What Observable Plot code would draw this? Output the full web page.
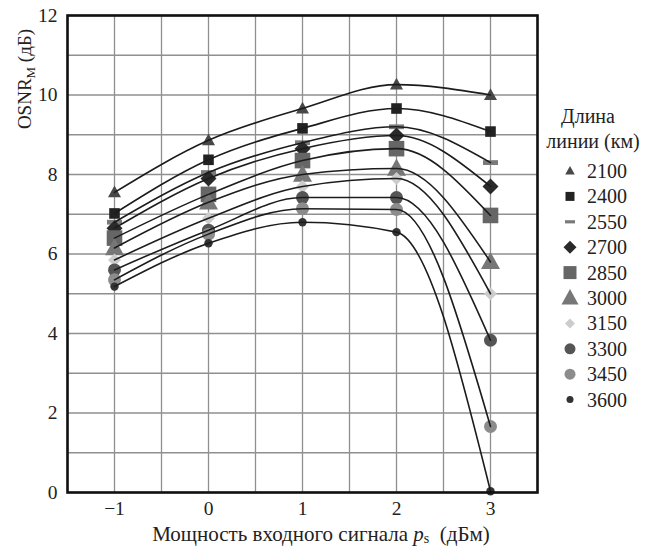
<!DOCTYPE html>
<html><head><meta charset="utf-8">
<script src="https://cdn.jsdelivr.net/npm/d3@7"></script>
<script src="https://cdn.jsdelivr.net/npm/@observablehq/plot@0.6"></script>
<style>
body{margin:0;background:#fff}
#chart{position:relative;width:649px;height:546px}
</style>
</head><body><div id="chart"></div>
<script>
// ---- data ----
const powers = [-1, 0, 1, 2, 3];            // p_s, dBm
const lengths = [2100, 2400, 2550, 2700, 2850, 3000, 3150, 3300, 3450, 3600]; // km
const osnr2100 = [7.55, 8.86, 9.66, 10.26, 10.0];
const osnr2400 = [7.02, 8.37, 9.16, 9.66, 9.08];
const osnr2550 = [6.8, 8.05, 8.8, 9.2, 8.3];
const osnr2700 = [6.65, 7.9, 8.65, 8.98, 7.7];
const osnr2850 = [6.4, 7.5, 8.35, 8.65, 6.97];
const osnr3000 = [6.15, 7.3, 8.0, 8.15, 5.8];
const osnr3150 = [5.85, 6.9, 7.7, 7.9, 5.0];
const osnr3300 = [5.6, 6.6, 7.42, 7.42, 3.83];
const osnr3450 = [5.35, 6.5, 7.14, 7.12, 1.66];
const osnr3600 = [5.18, 6.27, 6.8, 6.55, 0.03];
const seriesValues = [osnr2100, osnr2400, osnr2550, osnr2700, osnr2850, osnr3000, osnr3150, osnr3300, osnr3450, osnr3600];
const xTicks = [-1, 0, 1, 2, 3];
const xGrid = [-1.5, -1, -0.5, 0, 0.5, 1, 1.5, 2, 2.5, 3, 3.5];
const yTicks = [0, 2, 4, 6, 8, 10, 12];
const yGrid = [0, 1, 2, 3, 4, 5, 6, 7, 8, 9, 10, 11, 12];

// ---- custom symbols (r = half-width in px) ----
const R = s => Math.sqrt(s / Math.PI);
const symTri = {draw(c, s){const r=R(s); c.moveTo(0,-r*1.05); c.lineTo(r,r*0.75); c.lineTo(-r,r*0.75); c.closePath();}};
const symSq = {draw(c, s){const r=R(s); c.rect(-r,-r,2*r,2*r);}};
const symDash = {draw(c, s){const r=R(s); c.rect(-r,-r*0.32,2*r,r*0.64);}};
const symDia = {draw(c, s){const r=R(s); c.moveTo(0,-r); c.lineTo(r,0); c.lineTo(0,r); c.lineTo(-r,0); c.closePath();}};
const symCirc = {draw(c, s){const r=R(s); c.moveTo(r,0); c.arc(0,0,r,0,2*Math.PI);}};

const styles = [
  {sym: symTri,  fill: "#484848", r: 6.5, lr: 4.8},
  {sym: symSq,   fill: "#222222", r: 5.3, lr: 4.5},
  {sym: symDash, fill: "#7a7a7a", r: 7.5, lr: 5},
  {sym: symDia,  fill: "#2a2a2a", r: 8,   lr: 6.5},
  {sym: symSq,   fill: "#666666", r: 7.8, lr: 6.5},
  {sym: symTri,  fill: "#777777", r: 9.5, lr: 8.5},
  {sym: symDia,  fill: "#cccccc", r: 6.5, lr: 5},
  {sym: symCirc, fill: "#555555", r: 6.5, lr: 5.5},
  {sym: symCirc, fill: "#8c8c8c", r: 6.5, lr: 5.5},
  {sym: symCirc, fill: "#333333", r: 4.2, lr: 3.5}
];

const rows = seriesValues.map((vals, i) => powers.map((p, j) => ({p, v: vals[j], len: lengths[i]})));

const font = "'Liberation Serif','Times New Roman',serif";
const minus = d => d < 0 ? "\u2212" + Math.abs(d) : String(d);

const chart = Plot.plot({
  width: 649, height: 546,
  marginLeft: 67, marginRight: 112, marginTop: 15, marginBottom: 54,
  style: {fontFamily: font, fontSize: "19.5px", background: "white", color: "#222", overflow: "visible"},
  x: {domain: [-1.5, 3.5]},
  y: {domain: [0, 12]},
  marks: [
    Plot.gridX(xGrid, {stroke: "#8f8f8f", strokeOpacity: 1, strokeWidth: 1.3}),
    Plot.gridY(yGrid, {stroke: "#8f8f8f", strokeOpacity: 1, strokeWidth: 1.3}),
    Plot.axisX(xTicks, {tickSize: 0, tickPadding: 9, tickFormat: minus, label: null, fontSize: 19.5}),
    Plot.axisY(yTicks, {tickSize: 0, tickPadding: 10, label: null, fontSize: 19.5}),
    ...rows.map((d, i) => Plot.dot(d, {x: "p", y: "v", symbol: styles[i].sym, r: styles[i].r, fill: styles[i].fill, stroke: "none"})),
    ...rows.map(d => Plot.line(d, {x: "p", y: "v", curve: "monotone-x", stroke: "#1c1c1c", strokeWidth: 1.6})),
    Plot.frame({stroke: "#111", strokeWidth: 2.6})
  ]
});
document.getElementById("chart").appendChild(chart);

const svg = d3.select(chart);
const txt = sel => sel.style("font-family", font).style("fill", "#222");
// y label
const yl = txt(svg.append("text")).attr("transform", "translate(31,79) rotate(-90)")
  .attr("text-anchor", "middle").style("font-size", "19px");
yl.append("tspan").text("OSNR");
yl.append("tspan").style("font-size", "13px").attr("dy", 4).text("M");
yl.append("tspan").attr("dy", -4).text(" (дБ)");
// x label
const xl = txt(svg.append("text")).attr("x", 321).attr("y", 540.5)
  .attr("text-anchor", "middle").style("font-size", "21px");
xl.append("tspan").text("Мощность входного сигнала ");
xl.append("tspan").style("font-style", "italic").text("p");
xl.append("tspan").style("font-size", "14px").attr("dy", 2.5).text("s");
xl.append("tspan").attr("dy", -2.5).text("\u00a0\u00a0(дБм)");
// legend
const lg = svg.append("g");
txt(lg.append("text")).attr("x", 588).attr("y", 123).attr("text-anchor", "middle").style("font-size", "20px").text("Длина");
txt(lg.append("text")).attr("x", 593).attr("y", 148).attr("text-anchor", "middle").style("font-size", "20px").text("линии (км)");
lengths.forEach((L, i) => {
  const y = 171 + i * 25.4;
  lg.append("path").attr("transform", `translate(570,${y})`)
    .attr("d", d3.symbol().type(styles[i].sym).size(styles[i].lr * styles[i].lr * Math.PI)())
    .attr("fill", styles[i].fill);
  txt(lg.append("text")).attr("x", 587).attr("y", y + 7).attr("text-anchor", "start").style("font-size", "20px").text(L);
});
</script>
</body></html>
